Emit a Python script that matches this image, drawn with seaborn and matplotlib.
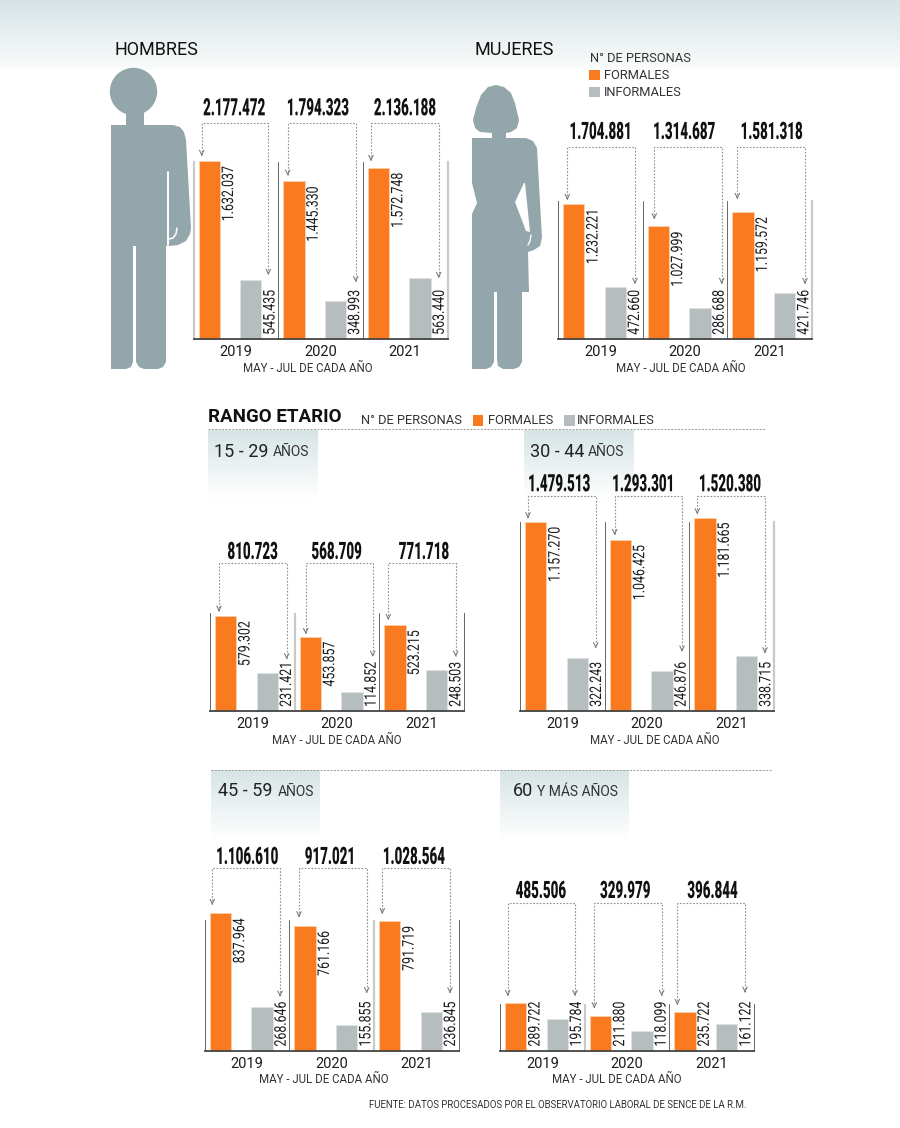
import numpy as np
import pandas as pd
import seaborn as sns
import matplotlib.pyplot as plt
from matplotlib.colors import LinearSegmentedColormap
from matplotlib.patches import Polygon, Circle, Rectangle
from matplotlib.patheffects import AbstractPathEffect
from matplotlib.transforms import Affine2D

# --- datos ---
anios = ['2019', '2020', '2021']

hombres_formales = [1632037, 1445330, 1572748]
hombres_informales = [545435, 348993, 563440]
hombres_total = ['2.177.472', '1.794.323', '2.136.188']

mujeres_formales = [1232221, 1027999, 1159572]
mujeres_informales = [472660, 286688, 421746]
mujeres_total = ['1.704.881', '1.314.687', '1.581.318']

r15_formales = [579302, 453857, 523215]
r15_informales = [231421, 114852, 248503]
r15_total = ['810.723', '568.709', '771.718']

r30_formales = [1157270, 1046425, 1181665]
r30_informales = [322243, 246876, 338715]
r30_total = ['1.479.513', '1.293.301', '1.520.380']

r45_formales = [837964, 761166, 791719]
r45_informales = [268646, 155855, 236845]
r45_total = ['1.106.610', '917.021', '1.028.564']

r60_formales = [289722, 211880, 235722]
r60_informales = [195784, 118099, 161122]
r60_total = ['485.506', '329.979', '396.844']

NARANJO = '#f97a1f'
GRIS = '#b5bdbe'
SILUETA = '#93a6ac'
TEXTO = '#1c1c1c'

sns.set_theme(style='white')
plt.rcParams['font.family'] = ['Roboto', 'DejaVu Sans']
plt.rcParams['text.color'] = TEXTO

fig = plt.figure(figsize=(9, 11.28), dpi=100)
W, H = 900, 1128


class Estirar(AbstractPathEffect):
    # alarga las letras en alto para imitar la fuente condensada del original
    def __init__(self, sy):
        super().__init__()
        self.sy = sy

    def draw_path(self, renderer, gc, tpath, affine, rgbFace=None):
        ext = tpath.get_extents()
        cy = (ext.y0 + ext.y1) / 2
        t = Affine2D().translate(0, -cy).scale(1, self.sy).translate(0, cy) + affine
        renderer.draw_path(gc, tpath, t, rgbFace)


def capa(z):
    # ejes transparentes en pixeles de la imagen
    a = fig.add_axes([0, 0, 1, 1], zorder=z)
    a.set_xlim(0, W)
    a.set_ylim(H, 0)
    a.axis('off')
    a.patch.set_alpha(0)
    return a


fondo = capa(0)
frente = capa(5)

cmap_fondo = LinearSegmentedColormap.from_list('fondo', ['#d6e3e6', '#fbfcfc'])
cmap_caja = LinearSegmentedColormap.from_list('caja', ['#d7e4e6', '#ffffff'])


def degradado(x0, x1, y0, y1, cmap):
    fondo.imshow(np.linspace(0, 1, 80)[:, None], cmap=cmap, aspect='auto',
                 extent=(x0, x1, y1, y0), zorder=1)


degradado(0, 900, 0, 70, cmap_fondo)
degradado(208, 318, 430, 499, cmap_caja)
degradado(524, 634, 430, 500, cmap_caja)
degradado(211, 320, 770, 840, cmap_caja)
degradado(500, 629, 770, 840, cmap_caja)
fondo.set_xlim(0, W)
fondo.set_ylim(H, 0)

# --- siluetas ---
fondo.add_patch(Circle((133.5, 91.5), 23, color=SILUETA, zorder=2))
hombre = [(126, 108), (144, 108), (144, 125), (173, 125), (180, 127), (184, 132), (186, 140),
          (191, 228), (190, 234), (186, 241), (178, 245), (169, 246), (166, 246), (166, 362),
          (163, 367), (158, 369), (144, 369), (139, 367), (136, 362), (136, 246), (133, 246),
          (133, 362), (131, 367), (126, 369), (111, 369), (111, 125), (126, 125)]
fondo.add_patch(Polygon(hombre, closed=True, color=SILUETA, lw=0, zorder=2))
fondo.plot([168, 168], [172, 245], color='white', lw=1.4, zorder=3)
fondo.plot([177, 176, 173, 169], [228, 234, 238, 239], color='white', lw=1.1, zorder=3)

mujer = [(496, 85), (504, 87), (511, 93), (515, 103), (519, 120), (517, 128), (511, 132), (506, 133),
         (506, 138), (526, 138), (533, 141), (537, 148), (542, 238), (540, 246), (534, 250), (528, 252),
         (529, 292), (522, 292), (522, 362), (519, 367), (514, 369), (503, 369), (498, 366), (497, 360),
         (497, 292), (494, 292), (494, 362), (491, 367), (486, 369), (472, 369), (472, 214), (477, 203),
         (472, 183), (472, 138), (492, 138), (492, 133), (480, 132), (475, 128), (473, 120), (476, 108),
         (481, 95), (488, 87)]
fondo.add_patch(Polygon(mujer, closed=True, color=SILUETA, lw=0, zorder=2))
fondo.add_patch(Polygon([(524, 183), (515, 202), (526, 231), (530, 232), (525, 183)], closed=True,
                        color='white', lw=0, zorder=3))
fondo.plot([531, 530, 528], [235, 241, 245], color='white', lw=1.0, zorder=3)


def panel(izq, base, tope, escala, formales, informales, totales, bracket, y_total, x_total,
          x_nota, gruesa):
    # izq/base/tope en pixeles, escala = pixeles por persona
    ancho = 254
    ax = fig.add_axes([izq / W, 1 - base / H, ancho / W, (base - tope) / H], zorder=2)
    ax.patch.set_alpha(0)

    df = pd.DataFrame({
        'anio': anios * 2,
        'personas': formales + informales,
        'tipo': ['Formales'] * 3 + ['Informales'] * 3,
    })
    sns.barplot(data=df, x='anio', y='personas', hue='tipo', palette=[NARANJO, GRIS],
                width=0.98, gap=0.487, saturation=1, legend=False, ax=ax)

    x0 = -0.431
    ax.set_xlim(x0, x0 + 3)
    ax.set_ylim(0, (base - tope) / escala)
    ax.set_xlabel('')
    ax.set_ylabel('')
    ax.set_yticks([])
    ax.set_xticks([i + 0.069 for i in range(3)], anios)
    ax.tick_params(axis='x', length=0, pad=4.5, labelsize=10.5, colors=TEXTO)

    # lineas verticales: una de ellas va gruesa y clara segun el panel
    for lado, pos in (('left', 0), ('right', 3)):
        sp = ax.spines[lado]
        sp.set_color('#c9c9c9' if pos in gruesa else '#666666')
        sp.set_linewidth(1.6 if pos in gruesa else 0.7)
    for pos in (1, 2):
        ax.axvline(x0 + pos, color='#c9c9c9' if pos in gruesa else '#666666',
                   lw=1.6 if pos in gruesa else 0.7, zorder=0)
    ax.spines['top'].set_visible(False)
    ax.spines['bottom'].set_color('#444444')
    ax.spines['bottom'].set_linewidth(1.3)

    for cont, es_formal in zip(ax.containers, (True, False)):
        for p in cont:
            p.set_clip_on(False)
            p.set_edgecolor('#fbd3b4' if es_formal else '#dfe3e3')
            p.set_linewidth(0.5)
            v = p.get_height()
            txt = f'{int(round(v)):,}'.replace(',', '.')
            xd = p.get_x() + p.get_width()
            # el valor cuelga de la barra si cabe, si no parte desde la base
            if es_formal and v * escala > 58:
                ax.annotate(txt, (xd, v), xytext=(6, -3.6), textcoords='offset points', rotation=90,
                            ha='center', va='top', fontsize=8.9, annotation_clip=False,
                            path_effects=[Estirar(1.3)])
            else:
                ax.annotate(txt, (xd, 0), xytext=(6, 3), textcoords='offset points', rotation=90,
                            ha='center', va='bottom', fontsize=8.9, annotation_clip=False,
                            path_effects=[Estirar(1.3)])

    # llaves punteadas con flecha
    for (xl, xr, yt, tl, tr), tot, xt in zip(bracket, totales, x_total):
        frente.plot([xl, xl, xr, xr], [tl - 1, yt, yt, tr - 1], color='#8f8f8f', lw=0.8, ls=(0, (1.5, 1.5)))
        for xf, yf in ((xl, tl), (xr, tr)):
            frente.annotate('', xy=(xf, yf), xytext=(xf, yf - 2),
                            arrowprops=dict(arrowstyle='->', color='#7f7f7f', lw=0.8, shrinkA=0, shrinkB=0,
                                            mutation_scale=8))
        frente.text(xt, y_total, tot, ha='center', va='center', fontsize=9.6, fontweight='black',
                    color='#111111', path_effects=[Estirar(1.8)])

    frente.text(x_nota, base + 29, 'MAY - JUL DE CADA AÑO', ha='center', va='center', fontsize=8.3,
                color='#333333')
    return ax


panel(193.5, 339, 162, 1.09e-4, hombres_formales, hombres_informales, hombres_total,
      [(201.7, 268.3, 123, 156, 275), (287.7, 355.7, 123, 175.7, 282), (371, 438.7, 123, 161, 278)],
      108, [234.3, 318, 405], 308, [0, 3])
panel(558, 339, 201, 1.096e-4, mujeres_formales, mujeres_informales, mujeres_total,
      [(567.3, 635, 147, 200, 284), (654.3, 721.7, 147, 219.3, 284), (737.3, 805, 147, 199, 284)],
      131.7, [600.7, 684.3, 771.7], 680.7, [3])
panel(210, 711, 613, 1.64e-4, r15_formales, r15_informales, r15_total,
      [(219, 286.7, 563.3, 611.7, 659.3), (305.7, 372.7, 563.3, 634, 656.7), (388.3, 455.7, 563.3, 620, 656.7)],
      551.7, [252.7, 336.7, 424], 336.7, [1])
panel(520, 711, 522, 1.636e-4, r30_formales, r30_informales, r30_total,
      [(528, 595.7, 496, 518.3, 648.3), (614.7, 682, 496, 535, 651.7), (697.3, 765, 496, 514.3, 653.3)],
      484, [559.3, 643.3, 730], 655, [3])
panel(204.7, 1050.7, 920, 1.64e-4, r45_formales, r45_informales, r45_total,
      [(212.3, 280, 868.3, 905, 996.7), (299, 366.7, 868.3, 917.3, 993.3), (382.3, 450, 868.3, 914, 993.3)],
      856.7, [247.3, 330, 414], 324, [2])
panel(500, 1050.7, 1004, 1.636e-4, r60_formales, r60_informales, r60_total,
      [(507.7, 575, 903.3, 996, 996), (594.3, 661.7, 903.3, 1008.3, 996), (677.3, 745, 903.3, 1005, 992.7)],
      890.7, [541, 625.3, 712.7], 616.7, [1])

# --- titulos y leyendas ---
frente.text(114, 50, 'HOMBRES', fontsize=13, va='center', color='#111111')
frente.text(475, 50, 'MUJERES', fontsize=13, va='center', color='#111111')

frente.text(590, 58, 'N° DE PERSONAS', fontsize=9.3, va='center', color='#333333')
frente.add_patch(Rectangle((589, 69.5), 10.5, 10.5, color=NARANJO, lw=0))
frente.add_patch(Rectangle((589, 86.5), 10.5, 10.5, color=GRIS, lw=0))
frente.text(604, 75.5, 'FORMALES', fontsize=9.3, va='center', color='#333333')
frente.text(604, 92, 'INFORMALES', fontsize=9.3, va='center', color='#333333')

frente.text(208, 417, 'RANGO ETARIO', fontsize=13.5, fontweight='bold', va='center', color='#111111')
frente.text(361, 420.5, 'N° DE PERSONAS', fontsize=9.3, va='center', color='#333333')
frente.add_patch(Rectangle((472.7, 415), 10.5, 10.5, color=NARANJO, lw=0))
frente.text(488, 420.5, 'FORMALES', fontsize=9.3, va='center', color='#333333')
frente.add_patch(Rectangle((564, 415), 10.5, 10.5, color=GRIS, lw=0))
frente.text(577, 420.5, 'INFORMALES', fontsize=9.3, va='center', color='#333333')

frente.plot([208, 765], [429, 429], color='#999999', lw=0.7, ls=(0, (2, 1.5)))
frente.plot([211, 771], [770, 770], color='#999999', lw=0.7, ls=(0, (2, 1.5)))

# rangos de edad
for xn, xa, y, num, resto in [(214, 273, 452, '15 - 29', 'AÑOS'), (530, 588, 452, '30 - 44', 'AÑOS'),
                              (218, 278, 791, '45 - 59', 'AÑOS'), (513, 537, 791, '60', 'Y MÁS AÑOS')]:
    frente.text(xn, y, num, fontsize=13, va='center', color='#222222')
    frente.text(xa, y + 0.5, resto, fontsize=10, va='center', color='#333333')

frente.text(369, 1105, 'FUENTE: DATOS PROCESADOS POR EL OBSERVATORIO LABORAL DE SENCE DE LA R.M.',
            fontsize=6.97, va='center', color='#333333')

plt.savefig('out.png', dpi=100)
plt.close()
